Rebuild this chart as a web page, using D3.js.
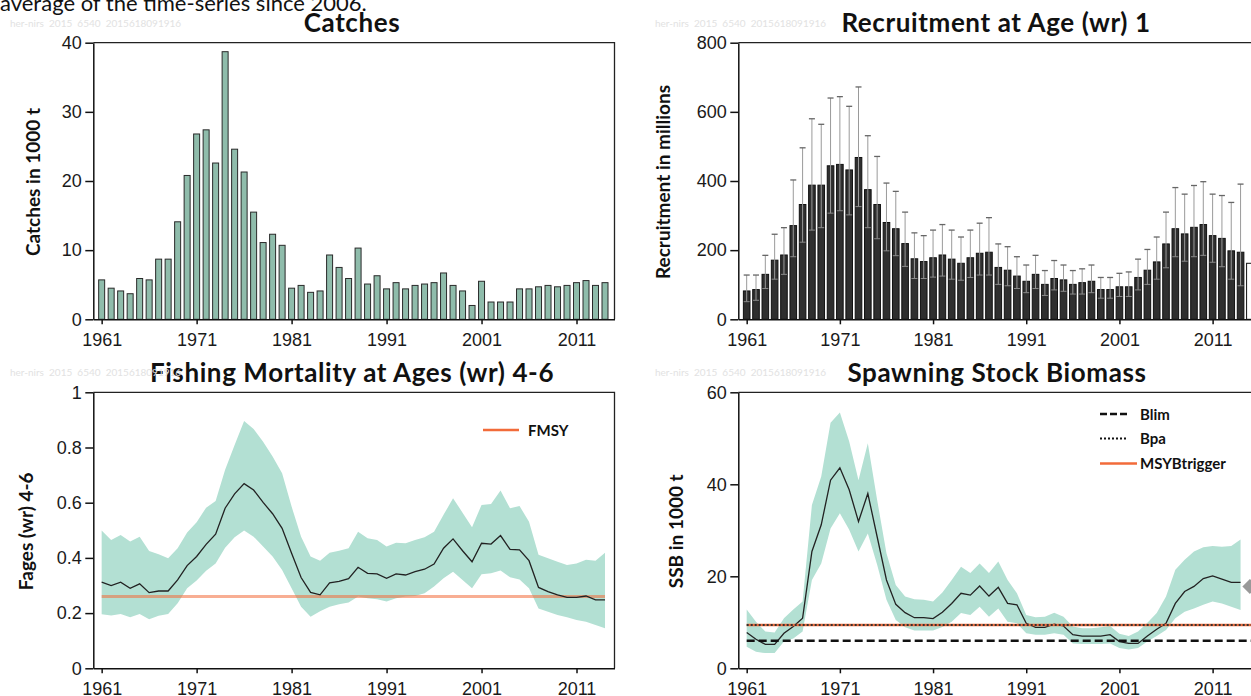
<!DOCTYPE html>
<html>
<head>
<meta charset="utf-8">
<script src="https://cdn.jsdelivr.net/npm/d3@7"></script>
<style>
  body { margin: 0; background: #fff; overflow: hidden; }
  svg { display: block; }
  .title { font-family: Lato, "Open Sans", sans-serif; font-weight: bold; font-size: 26px; letter-spacing: 0.6px; fill: #111; }
  .ylab { font-family: Lato, sans-serif; font-weight: bold; font-size: 19px; fill: #111; }
  .axis text { font-family: "Liberation Sans", Arial, sans-serif; font-size: 18px; fill: #1a1a1a; }
  .axis path, .axis line { stroke: #111; stroke-width: 1.5; }
  .stamp { font-family: Lato, sans-serif; font-size: 10px; fill: #e2e2e2; white-space: pre; }
  .leg { font-family: Lato, sans-serif; font-weight: bold; font-size: 15px; fill: #111; }
  .caption { font-family: Lato, sans-serif; font-size: 22px; fill: #111; }
</style>
</head>
<body>
<script>
// ---- values, one per year 1961-2014 ----
var firstYear = 1961, lastYear = 2014;
var years = d3.range(firstYear, lastYear + 1);
var tickYears = [1961, 1971, 1981, 1991, 2001, 2011];

// Catches (1000 t)
var catches = [5.7, 4.5, 4.1, 3.7, 5.9, 5.7, 8.7, 8.7, 14.1, 20.8,
               26.8, 27.4, 22.6, 38.7, 24.6, 21.3, 15.5, 11.1, 12.3, 10.7,
               4.5, 4.9, 3.9, 4.1, 9.3, 7.5, 5.9, 10.3, 5.1, 6.3,
               4.4, 5.3, 4.4, 4.9, 5.1, 5.3, 6.7, 4.9, 4.1, 2.0,
               5.5, 2.5, 2.5, 2.5, 4.4, 4.4, 4.7, 4.9, 4.7, 4.9,
               5.3, 5.6, 4.9, 5.3];

// Recruitment at age 1 (millions) with its interval
var recruits = [82, 86, 130, 171, 186, 271, 332, 388, 388, 444,
                448, 432, 468, 375, 332, 280, 262, 219, 175, 167,
                178, 186, 174, 162, 178, 191, 194, 150, 142, 125,
                110, 130, 101, 118, 114, 101, 106, 110, 86, 86,
                94, 94, 121, 142, 166, 218, 262, 247, 266, 274,
                242, 234, 198, 194];
var recruitsHigh = [128, 128, 185, 246, 265, 403, 496, 580, 564, 640,
                    644, 616, 672, 531, 471, 394, 370, 310, 250, 242,
                    258, 274, 258, 238, 258, 278, 294, 218, 210, 181,
                    157, 185, 141, 170, 157, 141, 146, 157, 121, 121,
                    133, 137, 174, 202, 238, 310, 381, 362, 387, 398,
                    362, 358, 338, 391];
var recruitsLow = [51, 55, 89, 116, 130, 181, 223, 258, 265, 307,
                   314, 302, 326, 265, 233, 198, 184, 153, 118, 118,
                   122, 125, 116, 113, 121, 128, 128, 101, 97, 89,
                   77, 89, 69, 85, 81, 73, 73, 77, 61, 61,
                   66, 66, 85, 101, 116, 149, 181, 168, 181, 185,
                   165, 152, 116, 97];
var recruitAssumedYear = 2015, recruitAssumed = 162;

// Fishing mortality ages 4-6
var fbar = [0.312, 0.300, 0.312, 0.290, 0.306, 0.274, 0.280, 0.280, 0.320, 0.372,
            0.405, 0.449, 0.486, 0.580, 0.632, 0.669, 0.646, 0.601, 0.560, 0.507,
            0.417, 0.329, 0.275, 0.266, 0.310, 0.315, 0.325, 0.366, 0.344, 0.342,
            0.326, 0.342, 0.338, 0.350, 0.359, 0.378, 0.435, 0.469, 0.426, 0.386,
            0.453, 0.450, 0.481, 0.431, 0.429, 0.390, 0.293, 0.278, 0.266, 0.257,
            0.257, 0.262, 0.248, 0.248];
var fbarHigh = [0.499, 0.465, 0.483, 0.459, 0.477, 0.425, 0.413, 0.399, 0.435, 0.492,
                0.529, 0.582, 0.606, 0.719, 0.809, 0.896, 0.867, 0.821, 0.767, 0.707,
                0.586, 0.477, 0.405, 0.390, 0.419, 0.426, 0.435, 0.495, 0.471, 0.465,
                0.441, 0.455, 0.453, 0.465, 0.475, 0.495, 0.556, 0.616, 0.564, 0.511,
                0.592, 0.595, 0.644, 0.580, 0.588, 0.531, 0.411, 0.399, 0.386, 0.374,
                0.380, 0.393, 0.390, 0.419];
var fbarLow = [0.196, 0.191, 0.197, 0.185, 0.197, 0.178, 0.190, 0.197, 0.236, 0.290,
               0.318, 0.353, 0.380, 0.437, 0.475, 0.499, 0.477, 0.441, 0.405, 0.356,
               0.290, 0.223, 0.187, 0.207, 0.223, 0.232, 0.238, 0.260, 0.254, 0.250,
               0.242, 0.254, 0.260, 0.262, 0.272, 0.296, 0.326, 0.350, 0.320, 0.290,
               0.341, 0.344, 0.354, 0.330, 0.322, 0.290, 0.217, 0.205, 0.193, 0.185,
               0.175, 0.169, 0.157, 0.145];
var fmsy = 0.26;

// Spawning stock biomass (1000 t)
var ssb = [7.8, 6.3, 5.2, 5.2, 7.6, 9.1, 10.9, 25.4, 31.2, 40.9,
           43.6, 38.8, 31.9, 38.0, 28.6, 19.2, 13.9, 12.1, 11.0, 11.0,
           10.8, 12.2, 14.1, 16.3, 15.9, 17.9, 15.7, 17.6, 14.1, 13.8,
           9.8, 8.9, 8.9, 9.6, 9.2, 7.3, 7.0, 7.0, 7.0, 7.3,
           5.8, 5.4, 5.4, 7.0, 8.5, 9.8, 14.1, 16.7, 17.8, 19.5,
           20.1, 19.4, 18.7, 18.7];
var ssbHigh = [12.8, 10.1, 8.0, 7.8, 10.9, 12.8, 14.5, 35.5, 41.7, 53.4,
               55.6, 49.3, 40.9, 48.9, 36.6, 25.0, 18.1, 15.6, 15.0, 14.9,
               14.5, 16.5, 19.2, 22.1, 20.7, 22.8, 20.7, 23.2, 19.2, 16.3,
               11.6, 11.1, 11.2, 12.1, 11.2, 9.1, 8.7, 8.7, 8.9, 9.2,
               7.5, 7.0, 8.0, 9.9, 12.0, 15.6, 21.4, 23.6, 25.4, 26.3,
               26.6, 26.4, 26.6, 28.0];
var ssbLow = [4.7, 3.6, 3.3, 3.3, 5.8, 6.5, 8.0, 19.2, 22.8, 30.4,
              33.7, 30.1, 25.4, 29.3, 22.5, 14.9, 10.5, 8.9, 8.2, 8.2,
              8.2, 9.0, 10.1, 12.0, 11.6, 13.4, 11.2, 13.0, 10.1, 9.8,
              7.6, 7.3, 7.3, 7.6, 7.3, 5.4, 5.3, 5.3, 5.3, 5.4,
              4.4, 4.1, 4.4, 5.8, 7.0, 8.3, 10.9, 12.3, 13.0, 13.8,
              14.5, 14.1, 13.4, 12.7];
var ssbNextYear = 2015, ssbNext = 17.8;
var blim = 6, bpa = 9.4, msyBtrigger = 9.4;

var stampText = "her-nirs  2015  6540  2015618091916";

// ---- drawing ----
var W = 1251, H = 696;
var svg = d3.select("body").append("svg").attr("width", W).attr("height", H);
svg.append("rect").attr("width", W).attr("height", H).attr("fill", "#fff");

var bandColor = "#b3e0d3", orange = "#f26b3a";

// one panel: scales, a group for marks, then frame and axes on top
function panel(p) {
  var x = d3.scaleLinear().domain(p.xDomain).range([p.left, p.right]);
  var y = d3.scaleLinear().domain(p.yDomain).range([p.bottom, p.top]);
  var marks = svg.append("g");
  var fmt = d3.format("");

  svg.append("path")
      .attr("d", "M" + p.left + "," + p.top + "H" + p.right + "V" + p.bottom)
      .attr("fill", "none").attr("stroke", "#222").attr("stroke-width", 1.3);

  svg.append("g").attr("class", "axis")
      .attr("transform", "translate(0," + p.bottom + ")")
      .call(d3.axisBottom(x).tickValues(tickYears).tickFormat(fmt)
              .tickSize(5).tickSizeOuter(0).tickPadding(8.5));

  svg.append("g").attr("class", "axis")
      .attr("transform", "translate(" + p.left + ",0)")
      .call(d3.axisLeft(y).tickValues(p.yTicks).tickFormat(fmt)
              .tickSize(8).tickSizeOuter(0).tickPadding(3.5));

  svg.selectAll(".axis .domain").attr("stroke-width", 1.6);

  svg.append("text").attr("class", "title")
      .attr("x", p.titleX).attr("y", p.top - 10.5)
      .attr("text-anchor", "middle").text(p.title);

  svg.append("text").attr("class", "ylab")
      .attr("transform", "translate(" + p.ylabX + "," + ((p.top + p.bottom) / 2 + 1) + ") rotate(-90)")
      .attr("text-anchor", "middle").attr("dy", "0.35em").text(p.ylab);

  svg.append("text").attr("class", "stamp")
      .attr("x", p.stampX).attr("y", p.top - 16).text(stampText);

  return {x: x, y: y, g: marks};
}

var catchP = panel({left: 93.3, right: 614.5, top: 42.7, bottom: 319.3,
  xDomain: [1960.12, 2015], yDomain: [0, 40], yTicks: [0, 10, 20, 30, 40],
  title: "Catches", titleX: 352, ylab: "Catches in 1000 t", ylabX: 33, stampX: 10});

var recP = panel({left: 738.3, right: 1262, top: 42.7, bottom: 319.3,
  xDomain: [1960.1, 2016.3], yDomain: [0, 800], yTicks: [0, 200, 400, 600, 800],
  title: "Recruitment at Age (wr) 1", titleX: 996, ylab: "Recruitment in millions", ylabX: 663, stampX: 655});

var fP = panel({left: 93.3, right: 614.5, top: 392.3, bottom: 668.3,
  xDomain: [1960.12, 2015], yDomain: [0, 1], yTicks: [0, 0.2, 0.4, 0.6, 0.8, 1],
  title: "Fishing Mortality at Ages (wr) 4-6", titleX: 352, ylab: "Fages (wr) 4-6", ylabX: 26, stampX: 10});

var ssbP = panel({left: 738.3, right: 1262, top: 392.3, bottom: 668.3,
  xDomain: [1960.1, 2016.3], yDomain: [0, 60], yTicks: [0, 20, 40, 60],
  title: "Spawning Stock Biomass", titleX: 997, ylab: "SSB in 1000 t", ylabX: 676, stampX: 655});

// caption fragment cut off at the top of the page
svg.append("text").attr("class", "caption")
    .attr("x", 0).attr("y", 11).text("average of the time-series since 2006.");

// Catches bars
catchP.g.selectAll("rect").data(years).enter().append("rect")
    .attr("x", function(d) { return catchP.x(d) - 3; })
    .attr("width", 6)
    .attr("y", function(d, i) { return catchP.y(catches[i]); })
    .attr("height", function(d, i) { return catchP.y(0) - catchP.y(catches[i]); })
    .attr("fill", "#8fbcab").attr("stroke", "#2a2a2a").attr("stroke-width", 1);

// Recruitment bars + interval
var rb = 3.3;
recP.g.selectAll("rect.bar").data(years).enter().append("rect")
    .attr("class", "bar")
    .attr("x", function(d) { return recP.x(d) - rb; })
    .attr("width", rb * 2)
    .attr("y", function(d, i) { return recP.y(recruits[i]); })
    .attr("height", function(d, i) { return recP.y(0) - recP.y(recruits[i]); })
    .attr("fill", "#2f2f2f").attr("stroke", "#111").attr("stroke-width", 1);

recP.g.append("rect")
    .attr("x", recP.x(recruitAssumedYear) - rb).attr("width", rb * 2)
    .attr("y", recP.y(recruitAssumed))
    .attr("height", recP.y(0) - recP.y(recruitAssumed))
    .attr("fill", "#fff").attr("stroke", "#111").attr("stroke-width", 1);

var err = recP.g.selectAll("g.err").data(years).enter().append("g").attr("class", "err");
err.append("line")
    .attr("x1", function(d) { return recP.x(d); }).attr("x2", function(d) { return recP.x(d); })
    .attr("y1", function(d, i) { return recP.y(recruitsLow[i]); })
    .attr("y2", function(d, i) { return recP.y(recruitsHigh[i]); })
    .attr("stroke", "#9a9a9a").attr("stroke-width", 1);
err.append("line")
    .attr("x1", function(d) { return recP.x(d) - 3; }).attr("x2", function(d) { return recP.x(d) + 3; })
    .attr("y1", function(d, i) { return recP.y(recruitsHigh[i]); })
    .attr("y2", function(d, i) { return recP.y(recruitsHigh[i]); })
    .attr("stroke", "#666").attr("stroke-width", 1.3);
err.append("line")
    .attr("x1", function(d) { return recP.x(d) - 3; }).attr("x2", function(d) { return recP.x(d) + 3; })
    .attr("y1", function(d, i) { return recP.y(recruitsLow[i]); })
    .attr("y2", function(d, i) { return recP.y(recruitsLow[i]); })
    .attr("stroke", "#8a8a8a").attr("stroke-width", 1);

// F panel: band, FMSY, estimate
fP.g.append("path")
    .attr("d", d3.area()
      .x(function(d) { return fP.x(d); })
      .y0(function(d, i) { return fP.y(fbarLow[i]); })
      .y1(function(d, i) { return fP.y(fbarHigh[i]); })(years))
    .attr("fill", bandColor);
fP.g.append("line")
    .attr("x1", fP.x(firstYear)).attr("x2", fP.x(lastYear))
    .attr("y1", fP.y(fmsy)).attr("y2", fP.y(fmsy))
    .attr("stroke", orange).attr("stroke-opacity", 0.55).attr("stroke-width", 3);
fP.g.append("path")
    .attr("d", d3.line()
      .x(function(d) { return fP.x(d); })
      .y(function(d, i) { return fP.y(fbar[i]); })(years))
    .attr("fill", "none").attr("stroke", "#222").attr("stroke-width", 1.3);

// F legend
fP.g.append("line").attr("x1", 483).attr("x2", 519).attr("y1", 430).attr("y2", 430)
    .attr("stroke", orange).attr("stroke-width", 2.5);
fP.g.append("text").attr("class", "leg").attr("x", 528).attr("y", 436).text("FMSY");

// SSB panel: band, estimate, reference points
ssbP.g.append("path")
    .attr("d", d3.area()
      .x(function(d) { return ssbP.x(d); })
      .y0(function(d, i) { return ssbP.y(ssbLow[i]); })
      .y1(function(d, i) { return ssbP.y(ssbHigh[i]); })(years))
    .attr("fill", bandColor);
ssbP.g.append("path")
    .attr("d", d3.line()
      .x(function(d) { return ssbP.x(d); })
      .y(function(d, i) { return ssbP.y(ssb[i]); })(years))
    .attr("fill", "none").attr("stroke", "#222").attr("stroke-width", 1.3);

var refEnd = 2016.3;
ssbP.g.append("line")
    .attr("x1", ssbP.x(firstYear)).attr("x2", ssbP.x(refEnd))
    .attr("y1", ssbP.y(blim)).attr("y2", ssbP.y(blim))
    .attr("stroke", "#111").attr("stroke-width", 2.5).attr("stroke-dasharray", "8,4");
ssbP.g.append("line")
    .attr("x1", ssbP.x(firstYear)).attr("x2", ssbP.x(refEnd))
    .attr("y1", ssbP.y(msyBtrigger)).attr("y2", ssbP.y(msyBtrigger))
    .attr("stroke", orange).attr("stroke-width", 2.5);
ssbP.g.append("line")
    .attr("x1", ssbP.x(firstYear)).attr("x2", ssbP.x(refEnd))
    .attr("y1", ssbP.y(bpa)).attr("y2", ssbP.y(bpa))
    .attr("stroke", "#333").attr("stroke-width", 2).attr("stroke-dasharray", "2,2");

ssbP.g.append("path")
    .attr("d", d3.symbol(d3.symbolSquare, 112)())
    .attr("transform", "translate(" + ssbP.x(ssbNextYear) + "," + ssbP.y(ssbNext) + ") rotate(45)")
    .attr("fill", "#999");

// SSB legend
var legRows = [
  {label: "Blim", y: 414, stroke: "#111", dash: "7,3", w: 2.5, len: 28},
  {label: "Bpa", y: 438.5, stroke: "#111", dash: "2,2", w: 2, len: 28},
  {label: "MSYBtrigger", y: 463.5, stroke: orange, dash: null, w: 2.5, len: 37}
];
var leg = ssbP.g.selectAll("g.leg").data(legRows).enter().append("g");
leg.append("line")
    .attr("x1", 1100).attr("x2", function(d) { return 1100 + d.len; })
    .attr("y1", function(d) { return d.y; }).attr("y2", function(d) { return d.y; })
    .attr("stroke", function(d) { return d.stroke; })
    .attr("stroke-width", function(d) { return d.w; })
    .attr("stroke-dasharray", function(d) { return d.dash; });
leg.append("text").attr("class", "leg")
    .attr("x", 1140).attr("y", function(d) { return d.y + 5.5; })
    .text(function(d) { return d.label; });
</script>
</body>
</html>
